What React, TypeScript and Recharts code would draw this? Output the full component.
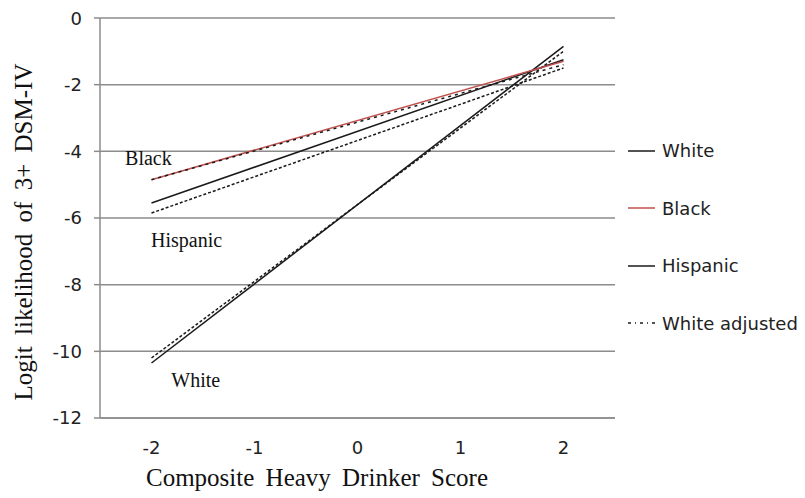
import React from "react"
import { LineChart, Line, XAxis, YAxis, CartesianGrid, ReferenceDot } from "recharts"

// x positions of the two ends of each fitted line
const scoreEnds = [-2, 2]

// logit values at score -2 and 2
const white = [-10.35, -0.85]
const whiteAdjusted = [-10.2, -1.0]
const black = [-4.85, -1.3]
const blackAdjusted = [-4.85, -1.4]
const hispanic = [-5.55, -1.25]
const hispanicAdjusted = [-5.85, -1.5]

const xLabelTicks = [-2, -1, 0, 1, 2]
const xMarkTicks = [-2.5, -1.5, -0.5, 0.5, 1.5, 2.5]
const yTicks = [-12, -10, -8, -6, -4, -2, 0]

// in-plot group names, in data coordinates
const annotations = [
  { text: "Black", x: -2.03, y: -4.2 },
  { text: "Hispanic", x: -1.66, y: -6.65 },
  { text: "White", x: -1.57, y: -10.85 },
]

const legendItems = [
  { name: "White", color: "#1a1a1a", dash: "" },
  { name: "Black", color: "#c0504d", dash: "" },
  { name: "Hispanic", color: "#1a1a1a", dash: "" },
  { name: "White adjusted", color: "#1a1a1a", dash: "3 4 1 4" },
]

const toPoints = (values: number[]) => scoreEnds.map((x, i) => ({ x, y: values[i] }))

const gray = "#8c8c8c"
const tickFont = { fill: "#222", fontSize: 18, fontFamily: "DejaVu Sans" }
const serif = "'Liberation Serif', 'DejaVu Serif', serif"
const noLabel = () => <g />

export default function App() {
  return (
    <div style={{ position: "relative", width: 805, height: 498 }}>
      <LineChart width={805} height={498} margin={{ top: 10, right: 198, left: 32, bottom: 47 }}>
        <CartesianGrid vertical={false} stroke={gray} strokeWidth={1.5} xAxisId="b" />
        <XAxis
          xAxisId="b"
          type="number"
          dataKey="x"
          domain={[-2.5, 2.5]}
          ticks={xLabelTicks}
          height={40}
          tickLine={false}
          tickSize={0}
          tickMargin={22}
          axisLine={false}
          tick={tickFont}
        />
        <XAxis
          xAxisId="a"
          type="number"
          dataKey="x"
          domain={[-2.5, 2.5]}
          ticks={xMarkTicks}
          height={1}
          tick={noLabel}
          tickLine={{ stroke: gray, strokeWidth: 1.5 }}
          tickSize={8}
          axisLine={{ stroke: gray, strokeWidth: 1.5 }}
        />
        <YAxis
          type="number"
          domain={[-12, 0]}
          ticks={yTicks}
          width={60}
          tickSize={6}
          tickMargin={12}
          tick={tickFont}
          tickLine={{ stroke: gray, strokeWidth: 1.5 }}
          axisLine={{ stroke: gray, strokeWidth: 1.5 }}
        />
        <Line xAxisId="b" data={toPoints(white)} dataKey="y" stroke="#1a1a1a" strokeWidth={1.5} dot={false} isAnimationActive={false} />
        <Line xAxisId="b" data={toPoints(whiteAdjusted)} dataKey="y" stroke="#1a1a1a" strokeWidth={1.5} strokeDasharray="3 2" dot={false} isAnimationActive={false} />
        <Line xAxisId="b" data={toPoints(hispanic)} dataKey="y" stroke="#1a1a1a" strokeWidth={1.5} dot={false} isAnimationActive={false} />
        <Line xAxisId="b" data={toPoints(hispanicAdjusted)} dataKey="y" stroke="#1a1a1a" strokeWidth={1.5} strokeDasharray="3 2" dot={false} isAnimationActive={false} />
        <Line xAxisId="b" data={toPoints(black)} dataKey="y" stroke="#c0504d" strokeWidth={1.5} dot={false} isAnimationActive={false} />
        <Line xAxisId="b" data={toPoints(blackAdjusted)} dataKey="y" stroke="#1a1a1a" strokeWidth={1.5} strokeDasharray="3 4" dot={false} isAnimationActive={false} />
        {annotations.map((a) => (
          <ReferenceDot
            key={a.text}
            xAxisId="b"
            x={a.x}
            y={a.y}
            r={0}
            fill="none"
            stroke="none"
            label={{ value: a.text, position: "center", fill: "#111", fontSize: 20, fontFamily: serif }}
          />
        ))}
      </LineChart>

      <svg width={805} height={498} style={{ position: "absolute", left: 0, top: 0, pointerEvents: "none" }}>
        <text x={309} y={478} textAnchor="middle" fontSize={25} fontFamily={serif} fill="#111" wordSpacing={5}>
          Composite Heavy Drinker Score
        </text>
        <text
          x={24}
          y={224}
          textAnchor="middle"
          fontSize={25}
          fontFamily={serif}
          fill="#111"
          wordSpacing={5}
          transform="rotate(-90 24 224)"
        >
          Logit likelihood of 3+ DSM-IV
        </text>
      </svg>

      <div style={{ position: "absolute", left: 620, top: 114, fontFamily: "DejaVu Sans", fontSize: 18, color: "#222" }}>
        {legendItems.map((item) => (
          <div key={item.name} style={{ display: "flex", alignItems: "center", height: 57.5 }}>
            <svg width={34} height={10}>
              <line x1={0} y1={5} x2={27} y2={5} stroke={item.color} strokeWidth={1.5} strokeDasharray={item.dash} />
            </svg>
            <span>{item.name}</span>
          </div>
        ))}
      </div>
    </div>
  )
}
